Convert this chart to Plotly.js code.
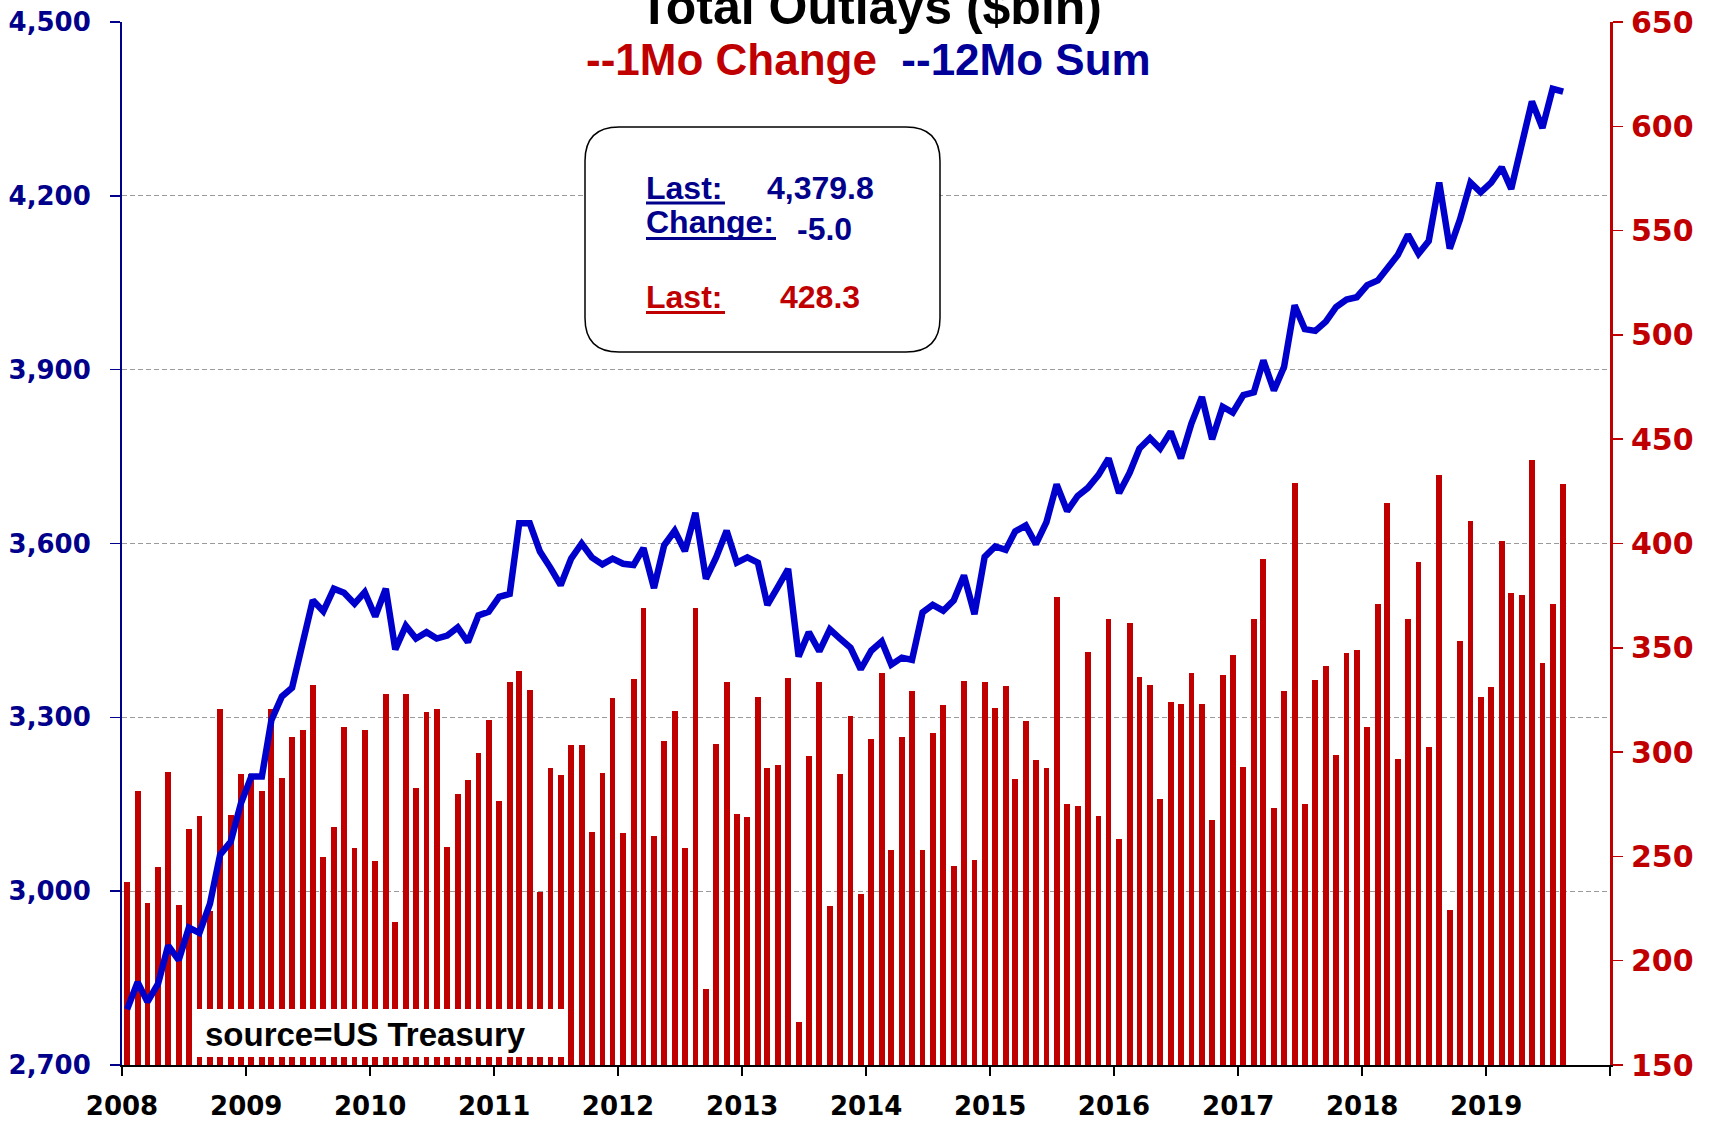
<!DOCTYPE html>
<html><head><meta charset="utf-8">
<script src="https://cdn.plot.ly/plotly-3.0.1.min.js"></script>
<style>html,body{margin:0;padding:0;background:#fff}#chart{width:1713px;height:1121px}</style>
</head><body><div id="chart"></div>
<script>
// ---- data ----
const startYear = 2008;
const monthCount = 140; // Jan 2008 .. Aug 2019
const months = [];
for (let i = 0; i < monthCount; i++) {
  const y = startYear + Math.floor(i / 12);
  const m = (i % 12) + 1;
  months.push(y + '-' + String(m).padStart(2, '0') + '-16');
}
// monthly outlays ($bln), right axis
const change1Mo = [
  237.5, 281.3, 227.6, 245.0, 290.5, 226.7, 263.1, 269.2, 224.0, 320.9, 270.0, 289.6,
  289.6, 281.3, 320.9, 287.4, 307.3, 310.4, 332.2, 249.5, 264.0, 311.8, 254.1, 310.4,
  247.9, 328.0, 218.7, 328.0, 282.6, 319.1, 320.5, 254.7, 279.7, 286.4, 299.4, 315.3,
  276.5, 333.5, 338.8, 329.7, 232.8, 292.6, 288.8, 303.2, 303.2, 261.5, 289.8, 326.1,
  261.2, 334.9, 369.0, 259.8, 305.2, 319.7, 253.9, 369.0, 186.4, 303.8, 333.4, 270.2,
  269.0, 326.5, 292.3, 293.8, 335.5, 170.5, 297.9, 333.4, 226.3, 289.5, 317.5, 231.8,
  306.1, 337.8, 252.9, 307.4, 329.4, 252.9, 309.2, 322.8, 245.4, 334.0, 248.5, 333.4,
  321.1, 331.9, 287.2, 315.1, 296.2, 292.5, 374.3, 274.9, 274.0, 347.9, 269.6, 363.7,
  258.4, 361.7, 336.0, 332.0, 277.6, 323.9, 323.0, 338.1, 323.0, 267.6, 336.9, 346.6,
  292.7, 363.8, 392.8, 273.1, 329.3, 429.1, 275.2, 334.5, 341.1, 298.8, 347.5, 349.0,
  311.8, 371.0, 419.5, 296.5, 363.8, 391.3, 302.4, 433.0, 224.4, 353.5, 411.0, 326.3,
  331.2, 401.0, 376.1, 375.5, 439.9, 342.8, 371.0, 428.3
];
// 12-month sum ($bln), left axis
const sum12Mo = [
  2796, 2843, 2809, 2840, 2906, 2881, 2937, 2928, 2978, 3063, 3085, 3151,
  3198, 3198, 3295, 3336, 3351, 3427, 3502, 3483, 3522, 3515, 3496, 3516,
  3474, 3522, 3417, 3458, 3436, 3447, 3436, 3441, 3455, 3430, 3476, 3482,
  3508, 3513, 3635, 3635, 3586, 3558, 3528, 3574, 3600, 3576, 3564, 3574,
  3565, 3563, 3592, 3523, 3597, 3622, 3587, 3653, 3539, 3576, 3622, 3567,
  3576, 3567, 3494, 3525, 3556, 3405, 3447, 3414, 3452, 3436, 3420, 3383,
  3415, 3431, 3391, 3403, 3399, 3481, 3494, 3484, 3502, 3545, 3478, 3577,
  3595, 3589, 3621, 3631, 3599, 3637, 3702, 3656, 3682, 3696, 3718, 3747,
  3687, 3722, 3764, 3782, 3764, 3793, 3747, 3807, 3853, 3780, 3836, 3826,
  3856, 3861, 3916, 3864, 3905, 4011, 3970, 3967, 3983, 4008, 4021, 4025,
  4046, 4054, 4074, 4098, 4133, 4100, 4122, 4223, 4109, 4159, 4223, 4206,
  4223, 4249, 4212, 4287, 4363, 4317, 4384.8, 4379.8
];
const leftTicks = [2700, 3000, 3300, 3600, 3900, 4200, 4500];
const rightTicks = [150, 200, 250, 300, 350, 400, 450, 500, 550, 600, 650];
const yearTickVals = ['2008-01-01','2009-01-01','2010-01-01','2011-01-01','2012-01-01','2013-01-01',
  '2014-01-01','2015-01-01','2016-01-01','2017-01-01','2018-01-01','2019-01-01','2020-01-01'];
const yearTickText = ['2008','2009','2010','2011','2012','2013','2014','2015','2016','2017','2018','2019',''];
const lastSum = '4,379.8', lastChange = '-5.0', lastMonth = '428.3';

// ---- layout helpers (pixel -> paper) ----
const W = 1713, H = 1121, L = 122, R = 103, T = 22, B = 56;
const PW = W - L - R, PH = H - T - B;
const px = X => (X - L) / PW;
const py = Y => (H - B - Y) / PH;

const RED = '#C00000', NAVY = '#00008B', BLUE = '#0000CD';
const tickFont = (c, s) => ({family: 'DejaVu Sans', size: s || 26, color: c, weight: 'bold'});

function roundRect(x0, y0, x1, y1, r) {
  const a = px(x0), b = px(x1), c = py(y0), d = py(y1);
  const rx = r / PW, ry = r / PH;
  return `M ${a+rx},${c} L ${b-rx},${c} Q ${b},${c} ${b},${c-ry} L ${b},${d+ry} Q ${b},${d} ${b-rx},${d} ` +
         `L ${a+rx},${d} Q ${a},${d} ${a},${d+ry} L ${a},${c-ry} Q ${a},${c} ${a+rx},${c} Z`;
}

const traces = [
  {type: 'bar', x: months, y: change1Mo, yaxis: 'y', width: 17 * 86400000,
   marker: {color: RED, line: {width: 0}}, hoverinfo: 'skip'},
  {type: 'scatter', mode: 'lines', x: months, y: sum12Mo, yaxis: 'y2',
   line: {color: BLUE, width: 6.5}, hoverinfo: 'skip'}
];

const bold = (size, color) => ({family: 'Liberation Sans, Arial, sans-serif', size: size, color: color, weight: 'bold'});
const ann = (X, Yc, text, size, color, xanchor) => ({
  xref: 'paper', yref: 'paper', x: px(X), y: py(Yc), xanchor: xanchor || 'left', yanchor: 'middle',
  text: text, showarrow: false, font: bold(size, color)
});

const layout = {
  width: W, height: H,
  margin: {l: L, r: R, t: T, b: B, pad: 0},
  paper_bgcolor: '#fff', plot_bgcolor: '#fff',
  showlegend: false, hovermode: false, bargap: 0,
  xaxis: {
    type: 'date', range: ['2008-01-01', '2020-01-01'],
    tickmode: 'array', tickvals: yearTickVals, ticktext: yearTickText,
    ticks: 'outside', ticklen: 9, tickwidth: 2, tickcolor: '#000',
    showline: true, linecolor: '#000', linewidth: 2,
    showgrid: false, zeroline: false, tickfont: tickFont('#000'), ticklabelstandoff: 8
  },
  yaxis: {
    range: [150, 650], side: 'right', tickmode: 'array', tickvals: rightTicks,
    ticks: 'outside', ticklen: 10, tickwidth: 1.5, tickcolor: RED,
    showline: true, linecolor: RED, linewidth: 3,
    showgrid: false, zeroline: false, tickfont: tickFont(RED, 30), ticklabelstandoff: 2
  },
  yaxis2: {
    range: [2700, 4500], overlaying: 'y', side: 'left', tickmode: 'array', tickvals: leftTicks,
    tickformat: ',', ticks: 'outside', ticklen: 10, tickwidth: 1.5, tickcolor: NAVY,
    showline: true, linecolor: NAVY, linewidth: 2,
    showgrid: true, gridcolor: '#9A9A9A', griddash: '5px,3px', gridwidth: 1.2,
    zeroline: false, tickfont: tickFont(NAVY), ticklabelstandoff: 14
  },
  shapes: [
    {type: 'rect', xref: 'paper', yref: 'paper', x0: px(530), x1: px(1210), y0: py(40), y1: py(0),
     fillcolor: '#fff', line: {width: 0}, layer: 'above'},
    {type: 'path', xref: 'paper', yref: 'paper', path: roundRect(585, 127, 940, 352, 34),
     fillcolor: '#fff', line: {color: '#000', width: 1.5}, layer: 'above'},
    {type: 'line', xref: 'paper', yref: 'paper', x0: px(646), x1: px(725), y0: py(203), y1: py(203),
     line: {color: NAVY, width: 3}, layer: 'above'},
    {type: 'line', xref: 'paper', yref: 'paper', x0: px(646), x1: px(776), y0: py(238.5), y1: py(238.5),
     line: {color: NAVY, width: 3}, layer: 'above'},
    {type: 'line', xref: 'paper', yref: 'paper', x0: px(646), x1: px(725), y0: py(312.5), y1: py(312.5),
     line: {color: RED, width: 3}, layer: 'above'},
    {type: 'rect', xref: 'paper', yref: 'paper', x0: px(197), x1: px(566), y0: py(1057), y1: py(1009),
     fillcolor: '#fff', line: {width: 0}, layer: 'above'}
  ],
  annotations: [
    ann(870, 7, 'Total Outlays ($bln)', 50, '#000', 'center'),
    ann(868, 59.5, '<span style="color:' + RED + '">--1Mo Change</span>\u00A0 <span style="color:#000099">--12Mo Sum</span>', 44, RED, 'center'),
    ann(644, 188.2, 'Last:', 32, NAVY),
    ann(765, 188.2, lastSum, 32, NAVY),
    ann(644, 221.6, 'Change:', 32, NAVY),
    ann(795, 228.9, lastChange, 32, NAVY),
    ann(644, 296.9, 'Last:', 32, RED),
    ann(778, 296.9, lastMonth, 32, RED),
    ann(203, 1034, 'source=US Treasury', 33, '#000')
  ]
};

Plotly.newPlot('chart', traces, layout, {staticPlot: true, displayModeBar: false});
</script>
</body></html>
